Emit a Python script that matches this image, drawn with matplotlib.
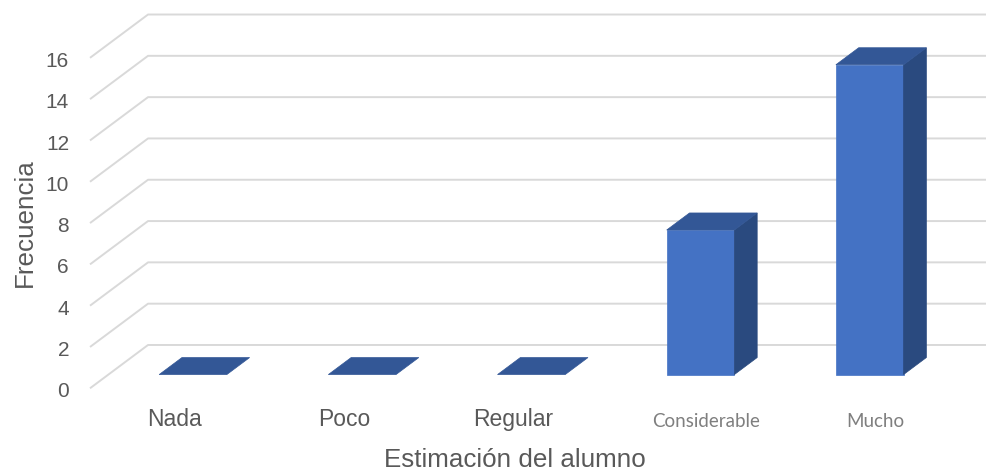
import matplotlib
matplotlib.use("Agg")
import matplotlib.pyplot as plt
from matplotlib.patches import Polygon

# datos de la encuesta
categorias = ["Nada", "Poco", "Regular", "Considerable", "Mucho"]
frecuencia = [0, 0, 0, 7, 15]
marcas_y = [0, 2, 4, 6, 8, 10, 12, 14, 16]

# proyeccion oblicua: profundidad d en [0, 1]
DX, DY = 0.343, 2.097
ANCHO = 0.40
D0, D1 = 0.317, 0.71

C_FRENTE = "#4472C4"
C_LADO = "#2A4A7F"
C_TAPA = "#335796"
C_GRID = "#D9D9D9"
C_TEXTO = "#595959"


def proy(x, v, d):
    return (x + d * DX, v + d * DY)


fig = plt.figure(figsize=(9.86, 4.70), dpi=100)
ax = fig.add_axes([0, 0, 1, 1])
ax.set_xlim(-0.532, 5.296)
ax.set_ylim(-3.956, 18.80)
ax.axis("off")

# lineas de cuadricula: diagonal en la pared lateral + horizontal en el fondo
n = len(categorias)
for v in marcas_y:
    pts = [proy(0, v, 0), proy(0, v, 1), proy(n, v, 1)]
    ax.plot([p[0] for p in pts], [p[1] for p in pts], color=C_GRID,
            lw=1.4, zorder=1, solid_capstyle="butt")
    ax.text(-0.124, v - 0.44, str(v), ha="right", va="baseline",
            fontsize=15, color=C_TEXTO, family="Liberation Sans")

# barras 3D
for i, h in enumerate(frecuencia):
    x0 = i + 0.5 - ANCHO / 2
    x1 = i + 0.5 + ANCHO / 2
    if h > 0:
        frente = [proy(x0, 0, D0), proy(x1, 0, D0), proy(x1, h, D0), proy(x0, h, D0)]
        lado = [proy(x1, 0, D0), proy(x1, 0, D1), proy(x1, h, D1), proy(x1, h, D0)]
        ax.add_patch(Polygon(frente, closed=True, fc=C_FRENTE, ec=C_FRENTE, lw=0.5, zorder=3))
        ax.add_patch(Polygon(lado, closed=True, fc=C_LADO, ec=C_LADO, lw=0.5, zorder=3))
    tapa = [proy(x0, h, D0), proy(x1, h, D0), proy(x1, h, D1), proy(x0, h, D1)]
    ax.add_patch(Polygon(tapa, closed=True, fc=C_TAPA, ec=C_TAPA, lw=0.5, zorder=3))

# etiquetas de categoria (las dos ultimas con otra fuente y desplazadas)
for i, cat in enumerate(categorias):
    if i < 3:
        ax.text(i + 0.5, -1.82, cat, ha="center", va="baseline",
                fontsize=16.5, color=C_TEXTO, family="Liberation Sans")
    else:
        ax.text(i + 0.64, -1.86, cat, ha="center", va="baseline",
                fontsize=13.5, color="#7F7F7F", family="Lato")

ax.text(2.51, -3.80, "Estimación del alumno", ha="center", va="baseline",
        fontsize=18.7, color=C_TEXTO, family="Liberation Sans")
ax.text(-0.387, 8.0, "Frecuencia", ha="center", va="center", rotation=90,
        fontsize=18.7, color=C_TEXTO, family="Liberation Sans")

fig.savefig("out.png", dpi=100)
